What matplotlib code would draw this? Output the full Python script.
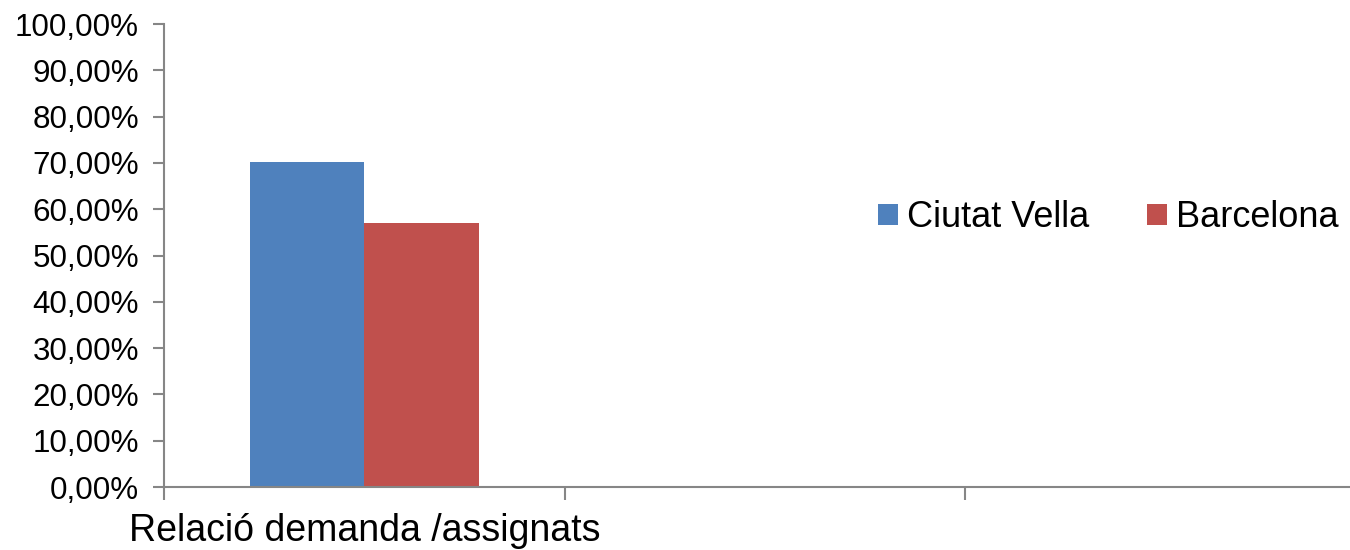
import numpy as np
import matplotlib.pyplot as plt
from matplotlib.patches import Patch
from matplotlib.ticker import FuncFormatter

categories = ["Relació demanda /assignats", "", ""]
series_names = ["Ciutat Vella", "Barcelona"]
ciutat_vella = [0.701, np.nan, np.nan]
barcelona = [0.571, np.nan, np.nan]
colors = ["#4F81BD", "#C0504D"]

plt.rcParams['font.family'] = ['Liberation Sans', 'DejaVu Sans']

fig = plt.figure(figsize=(13.5, 5.5), dpi=100)
ax = fig.add_axes([0.1215, 0.1145, 0.8785, 0.8418])

x = np.arange(len(categories))
width = 0.286
ax.bar(x - width / 2, ciutat_vella, width, color=colors[0])
ax.bar(x + width / 2, barcelona, width, color=colors[1])

ax.set_ylim(0, 1)
ax.set_yticks(np.arange(0, 1.01, 0.1))
ax.yaxis.set_major_formatter(FuncFormatter(lambda v, p: ("%.2f%%" % (v * 100)).replace(".", ",")))
ax.set_xlim(-0.5, 2.46)
ax.set_xticks([-0.5, 0.5, 1.5])
ax.set_xticklabels([])
ax.set_xticks(x, minor=True)
ax.set_xticklabels(categories, minor=True, fontsize=27)
ax.tick_params(axis='x', which='minor', length=0, pad=18.5)

for s in ['top', 'right']:
    ax.spines[s].set_visible(False)
for s in ['left', 'bottom']:
    ax.spines[s].set_color('#868686')
    ax.spines[s].set_linewidth(1.5)
ax.tick_params(axis='y', which='major', length=8, width=1.5, color='#868686', labelsize=22.6, pad=10)
ax.tick_params(axis='x', which='major', length=9, width=1.5, color='#868686')

handles = [Patch(facecolor=c) for c in colors]
fig.legend(handles, series_names, loc='center left', bbox_to_anchor=(0.64, 0.604),
           ncol=2, frameon=False, fontsize=26, handlelength=0.55, handleheight=0.55,
           handletextpad=0.25, columnspacing=1.6, borderaxespad=0)

fig.savefig("out.png", dpi=100)
